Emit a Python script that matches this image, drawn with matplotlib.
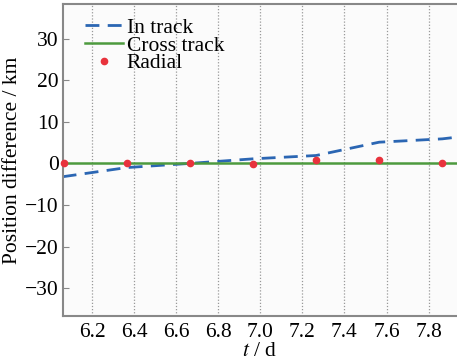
import numpy as np
import matplotlib.pyplot as plt

# ── Data ──────────────────────────────────────────────────────
T_IN = [6.06, 6.365, 6.665, 6.965, 7.265, 7.565, 7.865, 7.95]
IN_TRACK = [-3.2, -1.0, 0.0, 1.1, 1.9, 5.1, 5.9, 6.4]
T_CROSS = [6.06, 7.95]
CROSS_TRACK = [0.0, 0.0]
T_RAD = [6.065, 6.365, 6.665, 6.965, 7.265, 7.565, 7.865]
RADIAL = [0.0, 0.0, 0.0, -0.2, 0.7, 0.7, 0.0]
XTICKS = [6.2, 6.4, 6.6, 6.8, 7.0, 7.2, 7.4, 7.6, 7.8]
YTICKS = [-30, -20, -10, 0, 10, 20, 30]

FS = 15.5

plt.rcParams["font.family"] = ["Liberation Serif", "DejaVu Serif"]
plt.rcParams["mathtext.fontset"] = "stix"

fig = plt.figure(figsize=(4.57, 3.63), dpi=100)
ax = fig.add_axes([0.138, 0.129, 0.862, 0.86])
ax.set_facecolor("#fbfbfb")

ax.plot(T_IN, IN_TRACK, color="#2b66b3", lw=2.0, dashes=(5, 3), label="In track")
ax.plot(T_CROSS, CROSS_TRACK, color="#4d9a3e", lw=1.8, label="Cross track")
ax.plot(T_RAD, RADIAL, "o", color="#e8323c", ms=4.5, ls="none", label="Radial",
        clip_on=False, zorder=5)

ax.set_xlim(6.062, 7.935)
ax.set_ylim(-36.7, 38.3)
ax.set_xticks(XTICKS)
ax.set_yticks(YTICKS)
ax.xaxis.grid(True, linestyle=(0, (1, 1.5)), color="#999999", lw=0.9)

for side in ["left", "bottom", "top"]:
    ax.spines[side].set_color("#888888")
    ax.spines[side].set_linewidth(1.5)
ax.spines["right"].set_visible(False)
ax.tick_params(axis="both", direction="in", length=4, color="#888888",
               labelsize=FS, pad=3)
ax.tick_params(axis="x", length=0, pad=5)

ax.set_ylabel("Position difference / km", fontsize=FS, labelpad=2)
ax.set_xlabel("$t$ / d", fontsize=FS, labelpad=0)

ax.legend(loc="upper left", bbox_to_anchor=(0.022, 0.998), frameon=False,
          fontsize=FS, handlelength=1.8, handletextpad=0.15,
          labelspacing=-0.1, borderaxespad=0.2)

fig.savefig("out.png", dpi=100)
